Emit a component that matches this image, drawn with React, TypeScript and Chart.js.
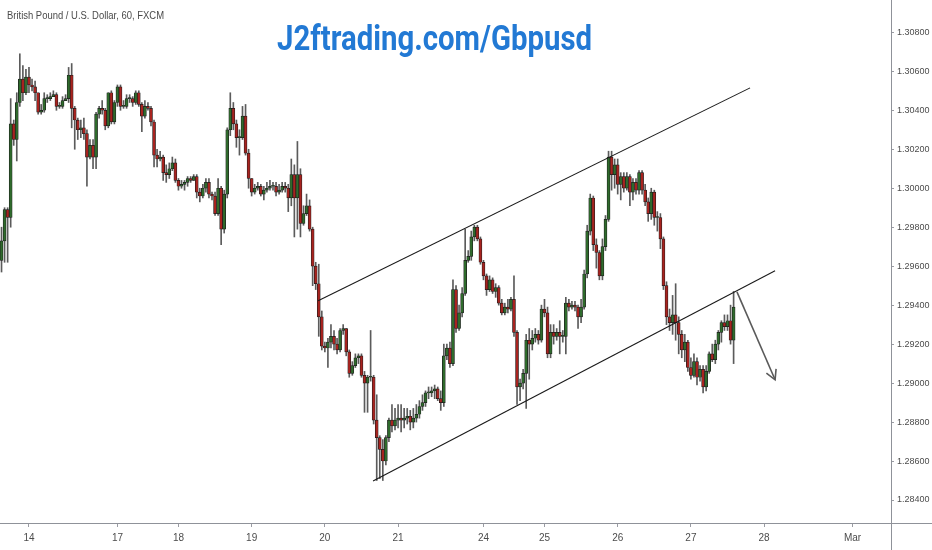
import React, { useEffect, useRef } from 'react';
import { Chart, registerables } from 'chart.js';

Chart.register(...registerables);

// GBP/USD hourly candles (FXCM, 60)
const openP = [
  1.2963, 1.2973, 1.2989, 1.2985, 1.3033, 1.3025, 1.3044, 1.3056, 1.3049, 1.3057,
  1.3053, 1.3052, 1.3049, 1.3039, 1.3040, 1.3046, 1.3046, 1.3047, 1.3048, 1.3042,
  1.3042, 1.3045, 1.3046, 1.3058, 1.3041, 1.3035, 1.3030, 1.3031, 1.3028, 1.3016,
  1.3022, 1.3016, 1.3038, 1.3041, 1.3040, 1.3032, 1.3049, 1.3034, 1.3044, 1.3052,
  1.3042, 1.3042, 1.3046, 1.3046, 1.3044, 1.3049, 1.3043, 1.3037, 1.3042, 1.3041,
  1.3034, 1.3017, 1.3015, 1.3016, 1.3008, 1.3007, 1.3010, 1.3013, 1.3004, 1.3001,
  1.3002, 1.3003, 1.3005, 1.3004, 1.3006, 1.2998, 1.2996, 1.3000, 1.3003, 1.2997,
  1.2996, 1.2987, 1.3000, 1.2979, 1.2997, 1.3030, 1.3041, 1.3033, 1.3026, 1.3026,
  1.3037, 1.3018, 1.3005, 1.2998, 1.3000, 1.3001, 1.2997, 1.2999, 1.3000, 1.3001,
  1.3001, 1.2998, 1.2999, 1.3001, 1.3000, 1.2995, 1.3007, 1.2995, 1.3007, 1.2982,
  1.2987, 1.2991, 1.2979, 1.2960, 1.2951, 1.2934, 1.2919, 1.2918, 1.2921, 1.2924,
  1.2920, 1.2917, 1.2927, 1.2928, 1.2916, 1.2905, 1.2909, 1.2913, 1.2914, 1.2904,
  1.2900, 1.2903, 1.2903, 1.2881, 1.2872, 1.2866, 1.2860, 1.2872, 1.2881, 1.2878,
  1.2881, 1.2882, 1.2881, 1.2882, 1.2883, 1.2880, 1.2882, 1.2884, 1.2888, 1.2890,
  1.2895, 1.2895, 1.2896, 1.2897, 1.2892, 1.2890, 1.2914, 1.2918, 1.2910, 1.2948,
  1.2928, 1.2936, 1.2946, 1.2963, 1.2965, 1.2975, 1.2980, 1.2974, 1.2962, 1.2955,
  1.2948, 1.2953, 1.2947, 1.2949, 1.2941, 1.2936, 1.2939, 1.2938, 1.2943, 1.2926,
  1.2898, 1.2900, 1.2905, 1.2922, 1.2920, 1.2923, 1.2925, 1.2922, 1.2938, 1.2936,
  1.2915, 1.2926, 1.2924, 1.2926, 1.2924, 1.2924, 1.2941, 1.2939, 1.2940, 1.2939,
  1.2934, 1.2939, 1.2956, 1.2978, 1.2995, 1.2971, 1.2967, 1.2955, 1.2970, 1.2984,
  1.3016, 1.3007, 1.3012, 1.3002, 1.3006, 1.3000, 1.3006, 1.2998, 1.3003, 1.2999,
  1.3008, 1.2999, 1.2993, 1.2987, 1.2998, 1.2985, 1.2985, 1.2974, 1.2950, 1.2934,
  1.2931, 1.2935, 1.2931, 1.2925, 1.2917, 1.2921, 1.2908, 1.2904, 1.2911, 1.2903,
  1.2907, 1.2898, 1.2906, 1.2915, 1.2912, 1.2920, 1.2926, 1.2931, 1.2929, 1.2932,
  1.2922,
];

const highP = [
  1.2980, 1.2990, 1.2990, 1.3046, 1.3035, 1.3049, 1.3069, 1.3063, 1.3061, 1.3062,
  1.3056, 1.3055, 1.3049, 1.3043, 1.3049, 1.3048, 1.3049, 1.3050, 1.3049, 1.3044,
  1.3047, 1.3048, 1.3062, 1.3064, 1.3042, 1.3036, 1.3035, 1.3036, 1.3030, 1.3025,
  1.3025, 1.3039, 1.3042, 1.3045, 1.3041, 1.3049, 1.3050, 1.3045, 1.3053, 1.3053,
  1.3045, 1.3048, 1.3048, 1.3047, 1.3050, 1.3050, 1.3044, 1.3045, 1.3044, 1.3042,
  1.3035, 1.3020, 1.3019, 1.3017, 1.3012, 1.3013, 1.3016, 1.3015, 1.3005, 1.3004,
  1.3004, 1.3006, 1.3006, 1.3007, 1.3007, 1.3000, 1.3002, 1.3005, 1.3005, 1.2998,
  1.2998, 1.3005, 1.3001, 1.2999, 1.3031, 1.3049, 1.3044, 1.3035, 1.3030, 1.3042,
  1.3043, 1.3020, 1.3005, 1.3002, 1.3003, 1.3002, 1.3001, 1.3003, 1.3004, 1.3003,
  1.3003, 1.3002, 1.3003, 1.3003, 1.3002, 1.3015, 1.3012, 1.3024, 1.3010, 1.2991,
  1.2997, 1.2994, 1.2980, 1.2962, 1.2961, 1.2937, 1.2921, 1.2923, 1.2930, 1.2927,
  1.2923, 1.2928, 1.2930, 1.2928, 1.2917, 1.2911, 1.2915, 1.2915, 1.2915, 1.2906,
  1.2904, 1.2927, 1.2904, 1.2894, 1.2873, 1.2871, 1.2873, 1.2882, 1.2889, 1.2887,
  1.2889, 1.2889, 1.2887, 1.2887, 1.2886, 1.2887, 1.2889, 1.2891, 1.2894, 1.2896,
  1.2898, 1.2898, 1.2899, 1.2898, 1.2896, 1.2920, 1.2920, 1.2921, 1.2953, 1.2950,
  1.2940, 1.2949, 1.2979, 1.2968, 1.2978, 1.2981, 1.2981, 1.2975, 1.2963, 1.2956,
  1.2955, 1.2954, 1.2951, 1.2950, 1.2943, 1.2941, 1.2943, 1.2944, 1.2955, 1.2927,
  1.2902, 1.2907, 1.2925, 1.2928, 1.2927, 1.2928, 1.2927, 1.2940, 1.2943, 1.2939,
  1.2930, 1.2930, 1.2928, 1.2932, 1.2927, 1.2944, 1.2943, 1.2942, 1.2942, 1.2940,
  1.2943, 1.2958, 1.2981, 1.2997, 1.2996, 1.2974, 1.2968, 1.2974, 1.2986, 1.3019,
  1.3019, 1.3015, 1.3015, 1.3008, 1.3008, 1.3008, 1.3007, 1.3005, 1.3005, 1.3009,
  1.3009, 1.3002, 1.2995, 1.3000, 1.2999, 1.2988, 1.2987, 1.2975, 1.2952, 1.2938,
  1.2945, 1.2951, 1.2934, 1.2927, 1.2925, 1.2922, 1.2913, 1.2915, 1.2913, 1.2909,
  1.2909, 1.2909, 1.2916, 1.2920, 1.2922, 1.2927, 1.2932, 1.2935, 1.2935, 1.2940,
  1.2947,
];

const lowP = [
  1.2957, 1.2962, 1.2962, 1.2980, 1.3022, 1.3014, 1.3042, 1.3045, 1.3048, 1.3049,
  1.3050, 1.3045, 1.3038, 1.3038, 1.3039, 1.3044, 1.3045, 1.3047, 1.3040, 1.3041,
  1.3041, 1.3045, 1.3044, 1.3031, 1.3020, 1.3025, 1.3026, 1.3025, 1.3001, 1.3015,
  1.3010, 1.3010, 1.3036, 1.3038, 1.3030, 1.3031, 1.3033, 1.3033, 1.3042, 1.3040,
  1.3041, 1.3041, 1.3044, 1.3042, 1.3043, 1.3042, 1.3029, 1.3036, 1.3040, 1.3032,
  1.3011, 1.3011, 1.3014, 1.3004, 1.3003, 1.3005, 1.3009, 1.3003, 1.2999, 1.3000,
  1.2999, 1.3001, 1.3003, 1.3004, 1.2995, 1.2993, 1.2995, 1.2998, 1.2995, 1.2994,
  1.2986, 1.2986, 1.2971, 1.2977, 1.2995, 1.3027, 1.3030, 1.3021, 1.3017, 1.3025,
  1.3017, 1.3000, 1.2996, 1.2997, 1.2999, 1.2996, 1.2994, 1.2998, 1.2999, 1.2999,
  1.2996, 1.2997, 1.2998, 1.2998, 1.2988, 1.2991, 1.2975, 1.2979, 1.2975, 1.2981,
  1.2986, 1.2978, 1.2950, 1.2948, 1.2924, 1.2917, 1.2916, 1.2908, 1.2918, 1.2917,
  1.2915, 1.2916, 1.2925, 1.2914, 1.2903, 1.2904, 1.2908, 1.2910, 1.2903, 1.2885,
  1.2885, 1.2901, 1.2879, 1.2850, 1.2851, 1.2850, 1.2858, 1.2870, 1.2875, 1.2876,
  1.2877, 1.2875, 1.2877, 1.2879, 1.2876, 1.2877, 1.2880, 1.2882, 1.2886, 1.2888,
  1.2892, 1.2893, 1.2892, 1.2891, 1.2886, 1.2888, 1.2912, 1.2908, 1.2909, 1.2926,
  1.2927, 1.2934, 1.2945, 1.2962, 1.2963, 1.2973, 1.2973, 1.2961, 1.2953, 1.2945,
  1.2947, 1.2946, 1.2944, 1.2940, 1.2935, 1.2935, 1.2936, 1.2937, 1.2924, 1.2889,
  1.2891, 1.2897, 1.2887, 1.2902, 1.2917, 1.2921, 1.2920, 1.2921, 1.2934, 1.2913,
  1.2913, 1.2920, 1.2922, 1.2915, 1.2921, 1.2915, 1.2937, 1.2938, 1.2937, 1.2928,
  1.2931, 1.2938, 1.2954, 1.2976, 1.2968, 1.2959, 1.2953, 1.2953, 1.2968, 1.2983,
  1.2999, 1.3000, 1.2997, 1.2994, 1.2998, 1.2999, 1.2991, 1.2994, 1.2997, 1.2997,
  1.2997, 1.2991, 1.2983, 1.2984, 1.2981, 1.2978, 1.2969, 1.2948, 1.2930, 1.2927,
  1.2925, 1.2922, 1.2915, 1.2913, 1.2911, 1.2906, 1.2902, 1.2903, 1.2899, 1.2901,
  1.2895, 1.2896, 1.2905, 1.2911, 1.2910, 1.2917, 1.2921, 1.2927, 1.2927, 1.2920,
  1.2910,
];

const closeP = [
  1.2973, 1.2989, 1.2985, 1.3033, 1.3025, 1.3044, 1.3056, 1.3049, 1.3057, 1.3053,
  1.3052, 1.3049, 1.3039, 1.3040, 1.3046, 1.3046, 1.3047, 1.3048, 1.3042, 1.3042,
  1.3045, 1.3046, 1.3058, 1.3041, 1.3035, 1.3030, 1.3031, 1.3028, 1.3016, 1.3022,
  1.3016, 1.3038, 1.3041, 1.3040, 1.3032, 1.3049, 1.3034, 1.3044, 1.3052, 1.3042,
  1.3042, 1.3046, 1.3046, 1.3044, 1.3049, 1.3043, 1.3037, 1.3042, 1.3041, 1.3034,
  1.3017, 1.3015, 1.3016, 1.3008, 1.3007, 1.3010, 1.3013, 1.3004, 1.3001, 1.3002,
  1.3003, 1.3005, 1.3004, 1.3006, 1.2998, 1.2996, 1.3000, 1.3003, 1.2997, 1.2996,
  1.2987, 1.3000, 1.2979, 1.2997, 1.3030, 1.3041, 1.3033, 1.3026, 1.3026, 1.3037,
  1.3018, 1.3005, 1.2998, 1.3000, 1.3001, 1.2997, 1.2999, 1.3000, 1.3001, 1.3001,
  1.2998, 1.2999, 1.3001, 1.3000, 1.2995, 1.3007, 1.2995, 1.3007, 1.2982, 1.2987,
  1.2991, 1.2979, 1.2960, 1.2951, 1.2934, 1.2919, 1.2918, 1.2921, 1.2924, 1.2920,
  1.2917, 1.2927, 1.2928, 1.2916, 1.2905, 1.2909, 1.2913, 1.2914, 1.2904, 1.2900,
  1.2903, 1.2903, 1.2881, 1.2872, 1.2866, 1.2860, 1.2872, 1.2881, 1.2878, 1.2881,
  1.2882, 1.2881, 1.2882, 1.2883, 1.2880, 1.2882, 1.2884, 1.2888, 1.2890, 1.2895,
  1.2895, 1.2896, 1.2897, 1.2892, 1.2890, 1.2914, 1.2918, 1.2910, 1.2948, 1.2928,
  1.2936, 1.2946, 1.2963, 1.2965, 1.2975, 1.2980, 1.2974, 1.2962, 1.2955, 1.2948,
  1.2953, 1.2947, 1.2949, 1.2941, 1.2936, 1.2939, 1.2938, 1.2943, 1.2926, 1.2898,
  1.2900, 1.2905, 1.2922, 1.2920, 1.2923, 1.2925, 1.2922, 1.2938, 1.2936, 1.2915,
  1.2926, 1.2924, 1.2926, 1.2924, 1.2924, 1.2941, 1.2939, 1.2940, 1.2939, 1.2934,
  1.2939, 1.2956, 1.2978, 1.2995, 1.2971, 1.2967, 1.2955, 1.2970, 1.2984, 1.3016,
  1.3007, 1.3012, 1.3002, 1.3006, 1.3000, 1.3006, 1.2998, 1.3003, 1.2999, 1.3008,
  1.2999, 1.2993, 1.2987, 1.2998, 1.2985, 1.2985, 1.2974, 1.2950, 1.2934, 1.2931,
  1.2935, 1.2931, 1.2925, 1.2917, 1.2921, 1.2908, 1.2904, 1.2911, 1.2903, 1.2907,
  1.2898, 1.2906, 1.2915, 1.2912, 1.2920, 1.2926, 1.2931, 1.2929, 1.2932, 1.2922,
  1.2939,
];

// x-axis day ticks (bar index) and their labels
const dayTickIdx = [9, 38, 58, 82, 106, 130, 158, 178, 202, 226, 250, 279];
const dayTickLabels = ['14', '17', '18', '19', '20', '21', '24', '25', '26', '27', '28', 'Mar'];

// price axis ticks
const priceTicks = [1.284, 1.286, 1.288, 1.29, 1.292, 1.294, 1.296, 1.298, 1.3, 1.302, 1.304, 1.306, 1.308];

// drawn trend channel and projection arrow (bar index, price)
const upperChannel = [{ x: 103.8, y: 1.29422 }, { x: 245.4, y: 1.30515 }];
const lowerChannel = [{ x: 121.8, y: 1.28498 }, { x: 253.6, y: 1.29576 }];
const arrowPath = [{ x: 241.1, y: 1.29468 }, { x: 253.6, y: 1.29017 }];

const TITLE = 'British Pound / U.S. Dollar, 60, FXCM';
const WATERMARK = 'J2ftrading.com/Gbpusd';

const UP = '#2f6b2c';
const DOWN = '#a8231f';
const AXIS_FONT = "'Liberation Sans', Arial, sans-serif";

export default function App() {
  const ref = useRef<HTMLCanvasElement>(null);

  useEffect(() => {
    const canvas = ref.current;
    if (!canvas) return;

    const wickData = lowP.map((l, i) => ({ x: i, y: [l, highP[i]] }));
    const bodyData = openP.map((o, i) => ({
      x: i,
      y: [Math.min(o, closeP[i]), Math.max(o, closeP[i])],
    }));
    const bodyColors = openP.map((o, i) => (closeP[i] >= o ? UP : DOWN));

    const framePlugin = {
      id: 'frame',
      afterDraw(chart: any) {
        const { ctx, chartArea, width, height } = chart;
        ctx.save();
        ctx.strokeStyle = '#8f9299';
        ctx.lineWidth = 1;
        ctx.beginPath();
        ctx.moveTo(0, Math.round(chartArea.bottom) + 0.5);
        ctx.lineTo(width, Math.round(chartArea.bottom) + 0.5);
        ctx.moveTo(Math.round(chartArea.right) + 0.5, 0);
        ctx.lineTo(Math.round(chartArea.right) + 0.5, height);
        ctx.stroke();
        ctx.restore();

        // title
        ctx.save();
        ctx.font = "11px 'Liberation Sans', Arial, sans-serif";
        const w1 = ctx.measureText(TITLE).width;
        ctx.translate(7, 19);
        ctx.scale(157 / w1, 1);
        ctx.fillStyle = '#4a4a4a';
        ctx.textBaseline = 'alphabetic';
        ctx.fillText(TITLE, 0, 0);
        ctx.restore();

        // watermark
        ctx.save();
        ctx.font = "bold 35px Roboto, 'Liberation Sans', sans-serif";
        const w2 = ctx.measureText(WATERMARK).width;
        ctx.translate(277, 50);
        ctx.scale(315 / w2, 1);
        ctx.fillStyle = '#2279d4';
        ctx.textBaseline = 'alphabetic';
        ctx.fillText(WATERMARK, 0, 0);
        ctx.restore();
      },
    };

    const arrowPlugin = {
      id: 'arrowHead',
      afterDatasetsDraw(chart: any) {
        const meta = chart.getDatasetMeta(4);
        if (!meta || !meta.data || meta.data.length < 2) return;
        const p0 = meta.data[0];
        const p1 = meta.data[1];
        const ang = Math.atan2(p1.y - p0.y, p1.x - p0.x);
        const len = 11;
        const spread = 0.5;
        const ctx = chart.ctx;
        ctx.save();
        ctx.strokeStyle = '#5a5a5a';
        ctx.lineWidth = 1.6;
        ctx.beginPath();
        ctx.moveTo(p1.x - len * Math.cos(ang - spread), p1.y - len * Math.sin(ang - spread));
        ctx.lineTo(p1.x, p1.y);
        ctx.lineTo(p1.x - len * Math.cos(ang + spread), p1.y - len * Math.sin(ang + spread));
        ctx.stroke();
        ctx.restore();
      },
    };

    const chart = new Chart(canvas, {
      type: 'bar',
      data: {
        datasets: [
          {
            type: 'bar',
            label: 'wick',
            data: wickData as any,
            backgroundColor: '#5b5b5b',
            borderWidth: 0,
            barThickness: 1,
            grouped: false,
            order: 2,
          } as any,
          {
            type: 'bar',
            label: 'body',
            data: bodyData as any,
            backgroundColor: bodyColors,
            borderColor: '#1d1d1d',
            borderWidth: 0.7,
            borderSkipped: false,
            barThickness: 3,
            minBarLength: 1,
            grouped: false,
            order: 1,
          } as any,
          {
            type: 'line',
            label: 'upper',
            data: upperChannel as any,
            borderColor: '#1a1a1a',
            borderWidth: 1.1,
            pointRadius: 0,
            fill: false,
            order: 0,
          } as any,
          {
            type: 'line',
            label: 'lower',
            data: lowerChannel as any,
            borderColor: '#1a1a1a',
            borderWidth: 1.1,
            pointRadius: 0,
            fill: false,
            order: 0,
          } as any,
          {
            type: 'line',
            label: 'arrow',
            data: arrowPath as any,
            borderColor: '#5a5a5a',
            borderWidth: 1.6,
            pointRadius: 0,
            fill: false,
            order: 0,
          } as any,
        ],
      },
      options: {
        responsive: false,
        animation: false,
        devicePixelRatio: 1,
        layout: { padding: 0 },
        plugins: {
          legend: { display: false },
          tooltip: { enabled: false },
          title: { display: false },
        },
        scales: {
          x: {
            type: 'linear',
            min: -0.5,
            max: 291.6,
            offset: false,
            border: { display: false },
            grid: {
              display: true,
              offset: false,
              drawOnChartArea: false,
              drawTicks: true,
              tickLength: 4,
              color: '#9a9ca3',
            },
            ticks: {
              autoSkip: false,
              maxRotation: 0,
              padding: 5,
              color: '#4c4c4c',
              font: { size: 10, family: AXIS_FONT },
              callback: (v: any) => {
                const k = dayTickIdx.indexOf(Number(v));
                return k >= 0 ? dayTickLabels[k] : '';
              },
            },
            afterBuildTicks: (s: any) => {
              s.ticks = dayTickIdx.map((v) => ({ value: v }));
            },
            afterFit: (s: any) => {
              s.height = 27;
              s.paddingLeft = 0;
              s.paddingRight = 0;
            },
          },
          y: {
            type: 'linear',
            position: 'right',
            min: 1.28282,
            max: 1.30966,
            border: { display: false },
            grid: {
              display: true,
              drawOnChartArea: false,
              drawTicks: true,
              tickLength: 3,
              color: '#9a9ca3',
            },
            ticks: {
              padding: 3,
              color: '#4c4c4c',
              font: { size: 9, family: AXIS_FONT },
              callback: (v: any) => Number(v).toFixed(5),
            },
            afterBuildTicks: (s: any) => {
              s.ticks = priceTicks.map((v) => ({ value: v }));
            },
            afterFit: (s: any) => {
              s.width = 41;
              s.paddingTop = 0;
              s.paddingBottom = 0;
            },
          },
        },
      } as any,
      plugins: [framePlugin, arrowPlugin],
    });

    return () => {
      chart.destroy();
    };
  }, []);

  return (
    <div
      style={{
        position: 'fixed',
        left: 0,
        top: 0,
        width: 932,
        height: 550,
        background: '#ffffff',
      }}
    >
      <canvas ref={ref} width={932} height={550} style={{ display: 'block' }} />
    </div>
  );
}
